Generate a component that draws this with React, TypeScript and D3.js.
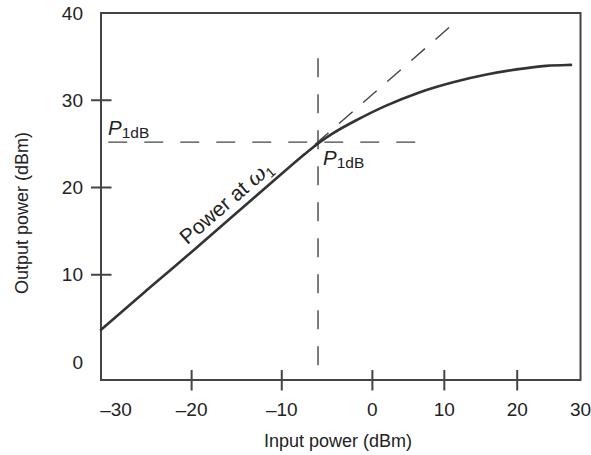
import { useEffect, useRef } from 'react'
import * as d3 from 'd3'

// axis ticks
const xTicks = [-30, -20, -10, 0, 10, 20, 30]
const yTicks = [0, 10, 20, 30, 40]
const yTickMarks = [10, 20, 30]

// output power vs input power (dBm)
const inputPower = [-30, -25, -20, -15, -10, -7, -4.5, -2, 1.5, 6.6, 11.2, 15.8, 20.4, 24.6, 28.5]
const outputPower = [3.7, 8.2, 12.6, 17.1, 21.6, 24.3, 26.2, 27.6, 29.3, 31.0, 32.1, 33.0, 33.6, 34.0, 34.05]

// 1 dB compression point
const p1dbIn = -6
const p1dbOut = 25.2
// linear-gain extrapolation (dashed)
const extrapIn = [-9, 11.7]
const extrapOut = [22.5, 39.1]
// extents of the dashed guide lines
const hGuideIn = [-29.2, 6.6]
const vGuideOut = [-1.0, 34.8]

const W = 591
const H = 455
const FONT = '"Liberation Sans", Arial, Helvetica, sans-serif'

function App() {
  const svgRef = useRef<SVGSVGElement>(null)

  useEffect(() => {
    const svg = d3.select(svgRef.current)
    svg.selectAll('*').remove()

    const left = 101
    const right = 580.5
    const top = 13
    const bottom = 380
    const w = right - left

    // the original sketch spaces its x ticks unevenly; keep that with a piecewise scale
    const xBreaks = [0, 0.189, 0.377, 0.566, 0.716, 0.868, 1]
    const x = d3.scaleLinear()
      .domain(xTicks)
      .range(xBreaks.map(f => left + f * w))

    const y = d3.scaleLinear().domain([0, 40]).range([362, top])

    const ink = '#333'
    const g = svg.append('g')

    // frame
    g.append('rect')
      .attr('x', left).attr('y', top)
      .attr('width', w).attr('height', bottom - top)
      .attr('fill', 'none')
      .attr('stroke', '#444')
      .attr('stroke-width', 2)

    // x ticks
    g.selectAll('.xt')
      .data(xTicks.slice(1, -1))
      .enter().append('line')
      .attr('x1', d => x(d)).attr('x2', d => x(d))
      .attr('y1', bottom - 10).attr('y2', bottom + 10.5)
      .attr('stroke', '#444').attr('stroke-width', 2)

    g.selectAll('.xl')
      .data(xTicks)
      .enter().append('text')
      .attr('x', (d, i) => x(d) + (i === 0 ? 15 : 0))
      .attr('y', 409)
      .attr('dy', '0.35em')
      .attr('text-anchor', 'middle')
      .attr('font-family', FONT)
      .attr('font-size', 19)
      .attr('fill', '#222')
      .text(d => (d < 0 ? '\u2013' + Math.abs(d) : String(d)))

    // y ticks
    g.selectAll('.yt')
      .data(yTickMarks)
      .enter().append('line')
      .attr('x1', left - 10).attr('x2', left + 10.5)
      .attr('y1', d => y(d)).attr('y2', d => y(d))
      .attr('stroke', '#444').attr('stroke-width', 2)

    g.selectAll('.yl')
      .data(yTicks)
      .enter().append('text')
      .attr('x', 83)
      .attr('y', d => y(d))
      .attr('dy', '0.35em')
      .attr('text-anchor', 'end')
      .attr('font-family', FONT)
      .attr('font-size', 19)
      .attr('fill', '#222')
      .text(d => d)

    // axis titles
    g.append('text')
      .attr('x', 338).attr('y', 441)
      .attr('dy', '0.35em')
      .attr('text-anchor', 'middle')
      .attr('font-family', FONT)
      .attr('font-size', 18)
      .attr('fill', '#222')
      .text('Input power (dBm)')

    g.append('text')
      .attr('transform', `translate(22,213) rotate(-90)`)
      .attr('dy', '0.35em')
      .attr('text-anchor', 'middle')
      .attr('font-family', FONT)
      .attr('font-size', 18)
      .attr('fill', '#222')
      .text('Output power (dBm)')

    // dashed guides
    const dash = { 'stroke': '#444', 'stroke-width': 1.4, 'fill': 'none' }
    const hLine = g.append('line')
      .attr('x1', x(hGuideIn[0])).attr('x2', x(hGuideIn[1]))
      .attr('y1', y(p1dbOut)).attr('y2', y(p1dbOut))
      .attr('stroke-dasharray', '19 17')
    const vLine = g.append('line')
      .attr('x1', x(p1dbIn)).attr('x2', x(p1dbIn))
      .attr('y1', y(vGuideOut[1])).attr('y2', y(vGuideOut[0]))
      .attr('stroke-dasharray', '19 17')
    const extrap = d3.zip(extrapIn, extrapOut) as [number, number][]
    const dLine = g.append('path')
      .attr('d', d3.line<[number, number]>().x(d => x(d[0])).y(d => y(d[1]))(extrap))
      .attr('stroke-dasharray', '18 14')
    ;[hLine, vLine, dLine].forEach(s => {
      Object.entries(dash).forEach(([k, v]) => s.attr(k, v as any))
    })

    // main curve
    const pts = d3.zip(inputPower, outputPower) as [number, number][]
    const line = d3.line<[number, number]>()
      .x(d => x(d[0]))
      .y(d => y(d[1]))
      .curve(d3.curveBasis)
    g.append('path')
      .attr('d', line(pts))
      .attr('fill', 'none')
      .attr('stroke', ink)
      .attr('stroke-width', 2.6)
      .attr('stroke-linecap', 'round')

    // P1dB labels
    const p1Label = (px: number, py: number) => {
      const t = g.append('text')
        .attr('x', px).attr('y', py)
        .attr('font-family', FONT)
        .attr('fill', '#222')
      t.append('tspan').attr('font-size', 20.5).attr('font-style', 'italic').text('P')
      t.append('tspan').attr('font-size', 15.5).attr('dy', 3).text('1dB')
    }
    p1Label(left + 7, y(p1dbOut) - 7)
    p1Label(x(p1dbIn) + 5, y(p1dbOut) + 23)

    // curve label, rotated along the linear part
    const a = pts[1]
    const b = pts[4]
    const ang = Math.atan2(y(b[1]) - y(a[1]), x(b[0]) - x(a[0])) * 180 / Math.PI
    const lx = x(-19.9)
    const ly = y(12.7)
    const lbl = g.append('text')
      .attr('transform', `translate(${lx},${ly}) rotate(${ang})`)
      .attr('dy', -8)
      .attr('font-family', FONT)
      .attr('font-size', 21)
      .attr('fill', '#222')
    lbl.append('tspan').text('Power at ')
    lbl.append('tspan').attr('font-style', 'italic').attr('font-family', '"DejaVu Serif", serif').attr('font-size', 22).text('\u03c9')
    lbl.append('tspan').attr('font-size', 14).attr('dy', 4).text('1')
  }, [])

  return (
    <div style={{ position: 'absolute', left: 0, top: 0, width: W, height: H, background: '#fff' }}>
      <svg ref={svgRef} width={W} height={H} style={{ display: 'block' }} />
    </div>
  )
}

export default App
